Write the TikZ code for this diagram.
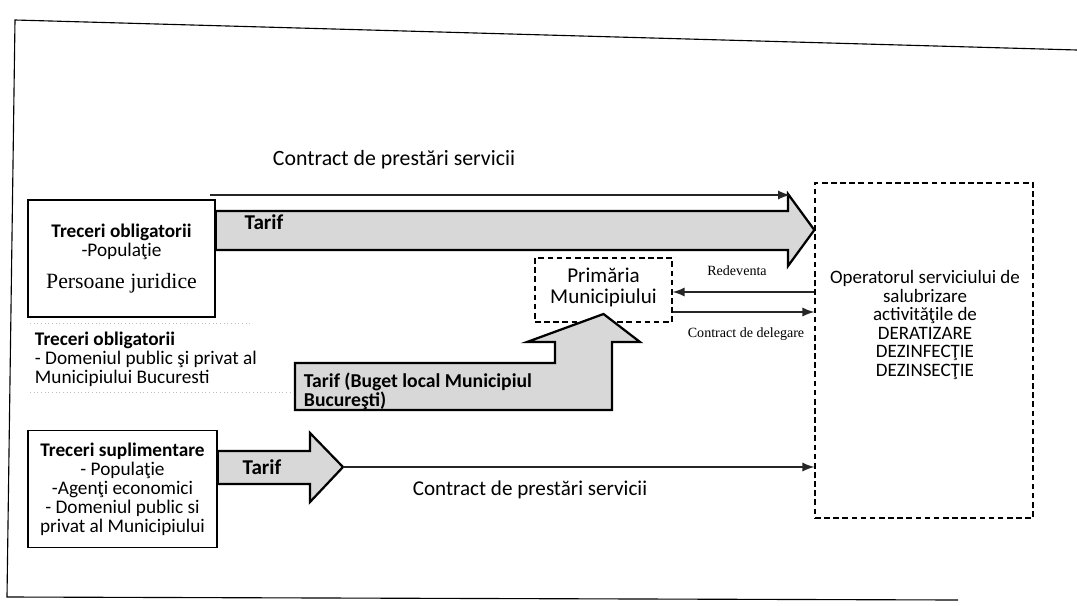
\documentclass[tikz,border=0pt]{standalone}
\usepackage{fontspec}
\setmainfont{Carlito}
\newfontfamily\tnr{Liberation Serif}
\usetikzlibrary{arrows}
\definecolor{tarifgray}{RGB}{216,216,216}

\begin{document}
\begin{tikzpicture}[x=0.025cm, y=-0.025cm,
  box/.style={draw, line width=0.9pt, align=center, inner sep=0pt},
  dbox/.style={draw, line width=0.9pt, dash pattern=on 4pt off 2.5pt, align=center, inner sep=0pt},
  bigarrow/.style={draw, line width=1.6pt, fill=tarifgray, line join=miter},
  conn/.style={-latex, line width=1.9pt, color=black!85},
  txt/.style={font=\fontsize{13.7}{13.5}\selectfont, align=center}]
\useasboundingbox (0,0) rectangle (1077,605);

% page frame of the scan
\draw[line width=0.8pt] (1077,50) -- (15,20) -- (7,597) -- (958,600);
\draw[gray!50, dotted, line width=0.6pt] (30,323) -- (250,323);
\draw[gray!50, dotted, line width=0.6pt] (30,392) -- (290,392);

% boxes
\node[box, txt, minimum width=4.675cm, minimum height=2.925cm] (oblig) at (121.5,258.5)
  {\textbf{Treceri obligatorii}\\-Populaţie\\[9pt]{\tnr\fontsize{15.5}{16}\selectfont Persoane juridice}};
\node[txt, align=left, anchor=west] (domeniu) at (30,359)
  {\textbf{Treceri obligatorii}\\- Domeniul public şi privat al\\Municipiului Bucuresti};
\node[box, txt, minimum width=4.725cm, minimum height=2.925cm] (supl) at (122.5,489)
  {\textbf{Treceri suplimentare}\\- Populaţie\\-Agenţi economici\\- Domeniul public si\\privat al Municipiului};
\node[dbox, txt, font=\fontsize{15}{15}\selectfont, minimum width=3.425cm, minimum height=1.6cm] (prim) at (603.5,290)
  {Primăria\\Municipiului\\[-8.5pt]};
\node[dbox, minimum width=5.45cm, minimum height=8.375cm] (oper) at (924,350.5) {};
\node[txt, font=\fontsize{13.5}{13.2}\selectfont] (operTxt) at (925,325)
  {Operatorul serviciului de\\salubrizare\\activităţile de\\DERATIZARE\\DEZINFECŢIE\\DEZINSECŢIE};

% block arrows
\draw[bigarrow] (oblig.east |- 0,211) -- (788,211) -- (788,194) -- (oper.west |- 0,230)
  -- (788,266) -- (788,250) -- (oblig.east |- 0,250) -- cycle;
\node[txt, font=\fontsize{15}{15}\selectfont\bfseries] (tarif1) at (264,222) {Tarif};

\draw[bigarrow] (295,363) -- (555,363) -- (555,342) -- (527,342) -- (prim.south |- 0,314)
  -- (640,342) -- (612,342) -- (612,410) -- (295,410) -- cycle;
\node[txt, align=left, anchor=north west, font=\fontsize{14}{13.5}\selectfont\bfseries] (tarif2) at (299,368)
  {Tarif (Buget local Municipiul\\Bucureşti)};

\coordinate (tip3) at (343,467);
\draw[bigarrow] (supl.east |- 0,451) -- (310,451) -- (310,433) -- (tip3)
  -- (310,502) -- (310,484) -- (supl.east |- 0,484) -- cycle;
\node[txt, font=\fontsize{15}{15}\selectfont\bfseries] (tarif3) at (262,467) {Tarif};

% thin arrows
\coordinate (c1) at (210,195);
\coordinate (c2) at (790,195);
\draw[conn] (c1) -- (c2);
\node[txt, font=\fontsize{15.5}{15}\selectfont] (prest1) at (394,160) {Contract de prestări servicii};

\draw[conn] (oper.west |- 0,292) -- (prim.east |- 0,292);
\node[font=\tnr\fontsize{10}{12}\selectfont] (redev) at (737,271) {Redeventa};
\draw[conn] (prim.east |- 0,312) -- (oper.west |- 0,312);
\node[font=\tnr\fontsize{10}{12}\selectfont] (deleg) at (746,334) {Contract de delegare};

\draw[conn] (tip3) -- (oper.west |- tip3);
\node[txt, font=\fontsize{15}{15}\selectfont] (prest2) at (530,490) {Contract de prestări servicii};
\end{tikzpicture}
\end{document}
